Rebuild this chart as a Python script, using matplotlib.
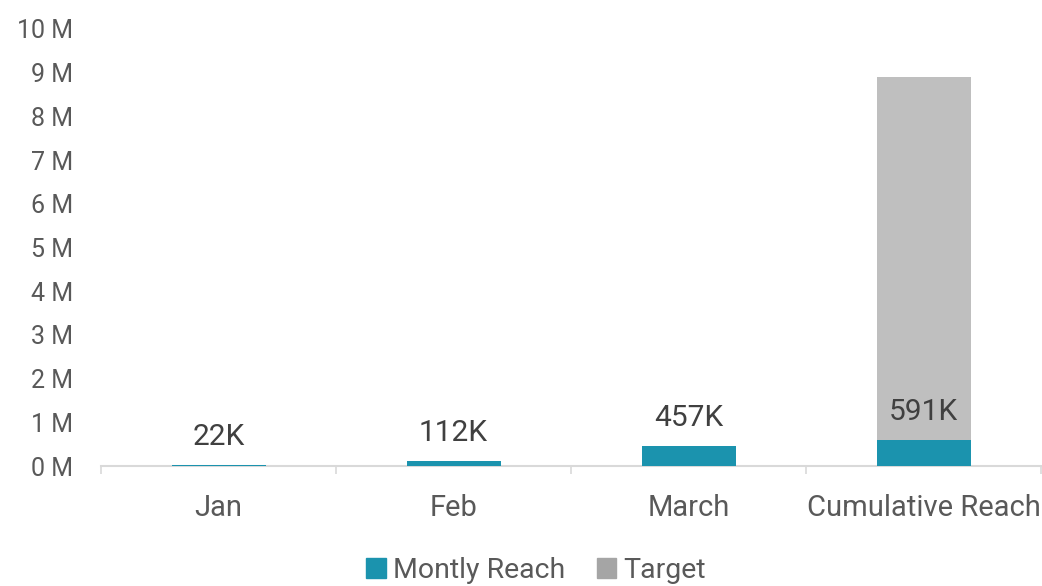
import matplotlib
matplotlib.use("Agg")
import matplotlib.pyplot as plt
from matplotlib.patches import Patch

plt.rcParams['font.family'] = ['Roboto', 'DejaVu Sans']

categories = ["Jan", "Feb", "March", "Cumulative Reach"]
monthly_reach = [22000, 112000, 457000, 591000]
target = [0, 0, 0, 8300000]
value_labels = ["22K", "112K", "457K", "591K"]
y_ticks = [0, 1e6, 2e6, 3e6, 4e6, 5e6, 6e6, 7e6, 8e6, 9e6, 10e6]
y_tick_labels = ["0 M", "1 M", "2 M", "3 M", "4 M", "5 M", "6 M", "7 M", "8 M", "9 M", "10 M"]

teal = "#1B93AE"
gray_bar = "#BFBFBF"
gray_legend = "#A5A5A5"

fig = plt.figure(figsize=(10.42, 5.86), dpi=100)
ax = fig.add_axes([101/1042, (586-466)/586, 940/1042, 437/586])

x = list(range(len(categories)))
ax.bar(x, monthly_reach, width=0.4, color=teal, zorder=3)
ax.bar(x, target, width=0.4, bottom=monthly_reach, color=gray_bar, zorder=2)

for xi, v, lab in zip(x, monthly_reach, value_labels):
    ax.annotate(lab, (xi, v), xytext=(0, 10), textcoords="offset points",
                ha="center", va="bottom", fontsize=21.5, color="#404040", zorder=4)

ax.set_xlim(-0.5, 3.5)
ax.set_ylim(0, 10e6)
ax.set_yticks(y_ticks)
ax.set_yticklabels(y_tick_labels)
ax.set_xticks(x)
ax.set_xticklabels(categories)
ax.set_xticks([-0.5, 0.5, 1.5, 2.5, 3.5], minor=True)
ax.tick_params(axis="x", which="major", length=0, pad=20.5, labelsize=21, labelcolor="#595959")
ax.tick_params(axis="x", which="minor", length=6, width=1.2, color="#D9D9D9")
ax.tick_params(axis="y", length=0, pad=20, labelsize=18, labelcolor="#595959")
for s in ["top", "right", "left"]:
    ax.spines[s].set_visible(False)
ax.spines["bottom"].set_color("#D9D9D9")
ax.spines["bottom"].set_linewidth(1.5)

handles = [Patch(color=teal, label="Montly Reach"), Patch(color=gray_legend, label="Target")]
leg = fig.legend(handles=handles, loc="center", bbox_to_anchor=(536/1042, 1 - 570/586),
                 ncol=2, frameon=False, fontsize=20.5, handlelength=0.7, handleheight=0.7,
                 handletextpad=0.25, columnspacing=1.1)
for t in leg.get_texts():
    t.set_color("#595959")

fig.savefig("out.png", dpi=100)
